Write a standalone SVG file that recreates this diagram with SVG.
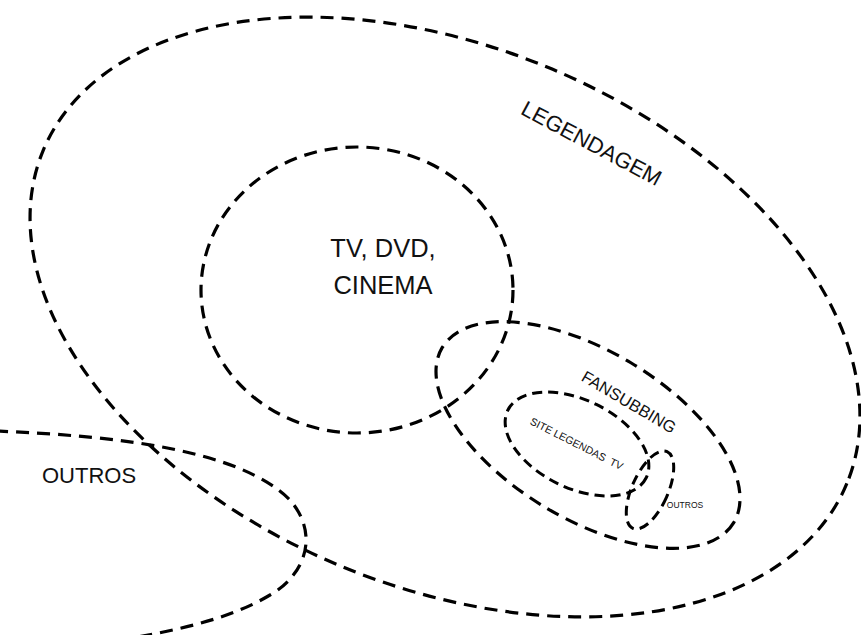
<svg xmlns="http://www.w3.org/2000/svg" width="861" height="635" viewBox="0 0 861 635">
<style>
.d{fill:none;stroke:#000;stroke-width:3.2;stroke-dasharray:13 8;}
.s{fill:none;stroke:#000;stroke-width:3;stroke-dasharray:10 6;}
text{font-family:"Liberation Sans",Arial,sans-serif;fill:#111;}
</style>
<rect width="861" height="635" fill="#fff"/>
<g id="legendagem">
<ellipse class="d" cx="445" cy="317" rx="435" ry="270" transform="rotate(22.5 445 317)"/>
<text x="588" y="150" font-size="22" text-anchor="middle" transform="rotate(28 588 150)">LEGENDAGEM</text>
</g>
<g id="tv-dvd-cinema">
<ellipse class="d" cx="357" cy="290" rx="156" ry="143"/>
<text x="383" y="257" font-size="25.5" text-anchor="middle">TV, DVD,</text>
<text x="383" y="294" font-size="25.5" text-anchor="middle">CINEMA</text>
</g>
<g id="outros">
<path class="d" d="M -5,431 C 120,436 240,450 290,500 C 320,535 305,575 270,595 C 220,625 150,635 90,645"/>
<text x="42" y="483" font-size="22">OUTROS</text>
</g>
<g id="fansubbing">
<ellipse class="d" cx="588" cy="435" rx="170" ry="84" transform="rotate(31 588 435)"/>
<text x="626" y="407" font-size="16.5" text-anchor="middle" transform="rotate(30.5 626 407)">FANSUBBING</text>
</g>
<g id="site-legendas-tv">
<ellipse class="s" cx="577" cy="444" rx="77" ry="44" transform="rotate(26 577 444)"/>
<text x="575" y="447" font-size="10.5" text-anchor="middle" xml:space="preserve" transform="rotate(27 575 447)">SITE LEGENDAS  TV</text>
</g>
<g id="outros-small">
<ellipse class="s" cx="650" cy="490" rx="18" ry="42" transform="rotate(24 650 490)"/>
<text x="685" y="508" font-size="8.5" text-anchor="middle">OUTROS</text>
</g>
<g id="connectors"></g>
</svg>
